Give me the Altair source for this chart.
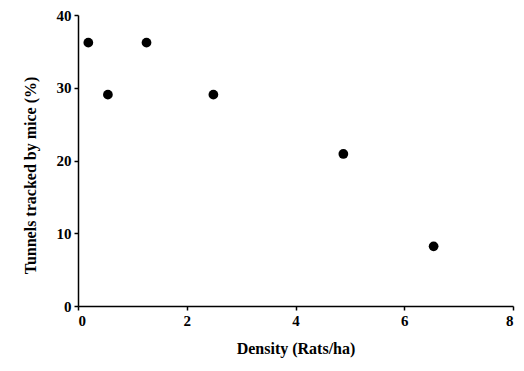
import altair as alt
import pandas as pd

density = [0.19, 0.55, 1.26, 2.49, 4.88, 6.54]
tracked = [36.2, 29.05, 36.2, 29.05, 20.9, 8.2]

df = pd.DataFrame({"density": density, "tracked": tracked})

font = "Liberation Serif"

chart = alt.Chart(df).mark_circle(size=95, color="black", opacity=1).encode(
    x=alt.X("density:Q", scale=alt.Scale(domain=[0, 8], nice=False),
            axis=alt.Axis(values=[0, 2, 4, 6, 8], title="Density (Rats/ha)",
                          titlePadding=12)),
    y=alt.Y("tracked:Q", scale=alt.Scale(domain=[0, 40], nice=False),
            axis=alt.Axis(values=[0, 10, 20, 30, 40], title="Tunnels tracked by mice (%)",
                          titlePadding=18, titleY=160)),
).properties(
    width=435, height=291,
    autosize=alt.AutoSizeParams(type="none"),
    padding={"left": 70, "top": 7, "right": 3, "bottom": 56},
).configure_view(stroke=None).configure_axis(
    grid=False,
    domainColor="black", domainWidth=1.5,
    tickColor="black", tickWidth=1.5, tickSize=4,
    labelFont=font, labelFontSize=15, labelFontWeight="bold", labelColor="black",
    labelPadding=3,
    titleFont=font, titleFontSize=16, titleFontWeight="bold", titleColor="black",
)

chart.save("out.html", embed_options={"renderer": "svg", "actions": False})
